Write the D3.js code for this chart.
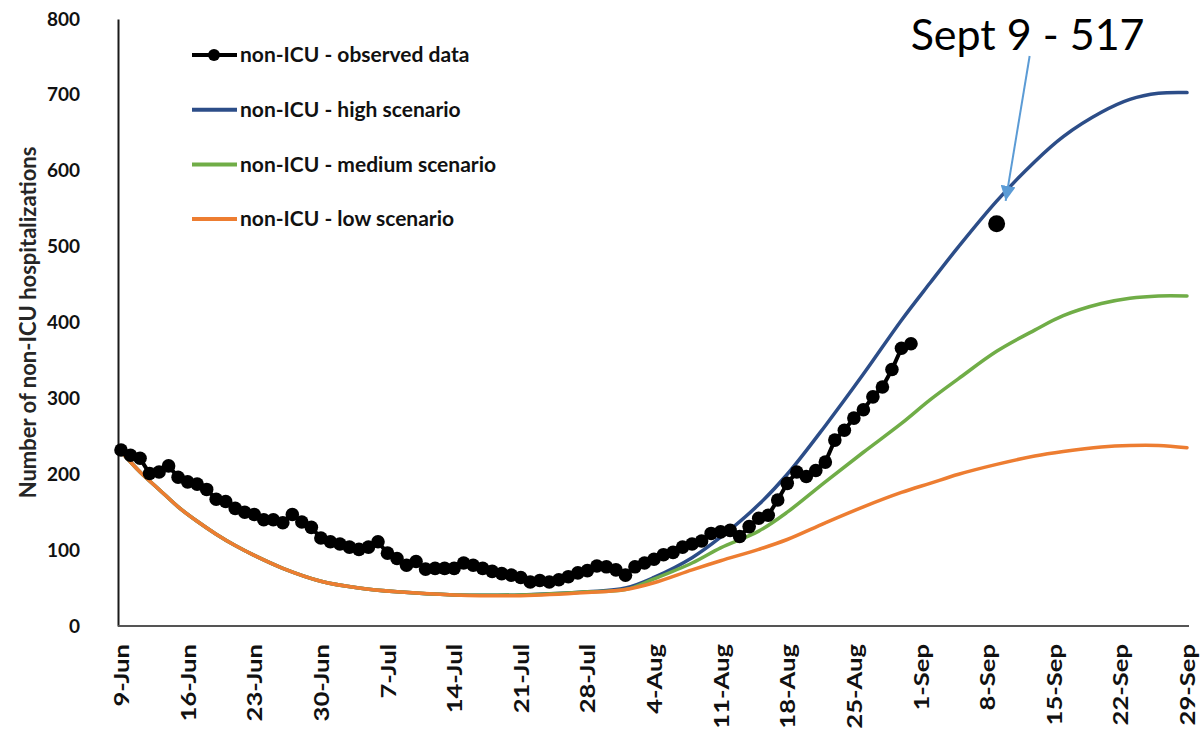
<!DOCTYPE html>
<html>
<head>
<meta charset="utf-8">
<script src="https://cdn.jsdelivr.net/npm/d3@7"></script>
<style>
  body { margin: 0; background: #fff; }
  svg { display: block; font-family: Lato, "Open Sans", sans-serif; }
</style>
</head>
<body>
<svg id="chart" width="1204" height="737"></svg>
<script>
// ---- data ----
const startDate = "2020-06-09";

// observed non-ICU hospitalizations, one value a day from 9-Jun to 31-Aug
const observed = [
  232, 225, 221, 201, 203, 211, 196, 190, 187, 180,
  167, 164, 155, 150, 147, 140, 140, 136, 147, 137,
  130, 116, 111, 108, 104, 101, 104, 111, 96, 89,
  80, 85, 75, 76, 76, 76, 83, 80, 76, 72,
  69, 67, 64, 58, 60, 58, 61, 65, 70, 73,
  79, 78, 74, 67, 78, 83, 88, 94, 97, 104,
  108, 112, 122, 124, 126, 118, 131, 142, 146, 166,
  188, 203, 197, 205, 216, 245, 258, 274, 285, 302,
  315, 338, 366, 372
];

// scenario curves, sampled at these day offsets from 9-Jun
const scenarioDays   = [0, 2, 4, 6, 8, 10, 12, 14, 17, 21, 25, 29, 35, 42, 49, 53, 56, 60, 63, 67, 70, 74, 78, 82, 85, 88, 92, 96, 99, 103, 106, 109, 112];
const highScenario   = [230, 203, 180, 157, 138, 121, 106, 93, 76, 59, 50, 45, 41, 41, 45, 50, 64, 90, 117, 160, 200, 264, 332, 403, 452, 500, 560, 612, 645, 677, 694, 702, 703];
const mediumScenario = [230, 203, 180, 157, 138, 121, 106, 93, 76, 59, 50, 45, 41, 41, 45, 48, 62, 83, 103, 125, 150, 190, 229, 267, 298, 326, 362, 390, 409, 425, 432, 435, 435];
const lowScenario    = [230, 203, 180, 157, 138, 121, 106, 93, 76, 59, 50, 45, 41, 40, 44, 48, 57, 74, 86, 101, 114, 136, 157, 176, 188, 200, 213, 224, 230, 236, 238, 238, 235];

const tickLabels = ["9-Jun", "16-Jun", "23-Jun", "30-Jun", "7-Jul", "14-Jul", "21-Jul", "28-Jul",
  "4-Aug", "11-Aug", "18-Aug", "25-Aug", "1-Sep", "8-Sep", "15-Sep", "22-Sep", "29-Sep"];
const yTicks = [0, 100, 200, 300, 400, 500, 600, 700, 800];

const seriesNames = ["non-ICU - observed data", "non-ICU - high scenario", "non-ICU - medium scenario", "non-ICU - low scenario"];
const seriesColors = ["#000000", "#2c4d88", "#70ad47", "#ed7d31"];

// single highlighted point and its note
const noteDay = 92;          // Sept 9
const noteValue = 530;
const noteText = "Sept 9 - 517";

// ---- scales ----
const day0 = d3.timeParse("%Y-%m-%d")(startDate);
const dayToDate = d => d3.timeDay.offset(day0, d);

const svg = d3.select("#chart");

const x = d3.scaleTime()
  .domain([dayToDate(0), dayToDate(112)])
  .range([121, 1187]);

const y = d3.scaleLinear()
  .domain([0, 800])
  .range([626, 19]);

const axisX = 118;
const font = "Lato, 'Open Sans', sans-serif";

// ---- axes ----
// y axis
const gy = svg.append("g")
  .attr("transform", `translate(${axisX},0)`)
  .call(d3.axisLeft(y).tickValues(yTicks).tickSize(0).tickPadding(38))
  .attr("font-family", font);
gy.select(".domain").attr("stroke", "#1a1a1a").attr("stroke-width", 2);
gy.selectAll("text")
  .attr("font-size", 19)
  .attr("font-weight", 700)
  .attr("fill", "#111");

// x axis (labels are a bit stretched along their length in the original)
const stretch = 1.22;
const tickDates = tickLabels.map((_, i) => dayToDate(i * 7));
const gx = svg.append("g")
  .attr("transform", `translate(0,${y(0)})`)
  .call(d3.axisBottom(x).tickValues(tickDates).tickSize(0)
    .tickFormat((d, i) => tickLabels[i]))
  .attr("font-family", font);
gx.select(".domain").remove();
gx.append("line")
  .attr("x1", axisX).attr("x2", x.range()[1] + 2)
  .attr("stroke", "#555").attr("stroke-width", 2);
gx.selectAll(".tick text")
  .attr("transform", `rotate(-90) scale(${stretch},1)`)
  .attr("text-anchor", "end")
  .attr("x", -18 / stretch)
  .attr("y", 0)
  .attr("dy", "0.36em")
  .attr("font-size", 21)
  .attr("font-weight", 700)
  .attr("fill", "#111");

// y axis title
svg.append("text")
  .attr("transform", `translate(36,${y(400)}) rotate(-90)`)
  .attr("text-anchor", "middle")
  .attr("font-size", 22)
  .attr("font-weight", 700)
  .attr("fill", "#262626")
  .text("Number of non-ICU hospitalizations");

// ---- scenario lines ----
const scenarioLine = d3.line()
  .x(d => x(dayToDate(d[0])))
  .y(d => y(d[1]))
  .curve(d3.curveCatmullRom.alpha(0.5));

const scenarios = [
  {values: highScenario, color: seriesColors[1]},
  {values: mediumScenario, color: seriesColors[2]},
  {values: lowScenario, color: seriesColors[3]}
];

svg.append("g")
  .selectAll("path")
  .data(scenarios)
  .join("path")
    .attr("d", s => scenarioLine(scenarioDays.map((d, i) => [d, s.values[i]])))
    .attr("fill", "none")
    .attr("stroke", s => s.color)
    .attr("stroke-width", 3.5)
    .attr("stroke-linecap", "round");

// ---- observed data ----
const obsPoints = observed.map((v, i) => [i, v]);
const obsLine = d3.line()
  .x(d => x(dayToDate(d[0])))
  .y(d => y(d[1]));

svg.append("path")
  .attr("d", obsLine(obsPoints))
  .attr("fill", "none")
  .attr("stroke", "#000")
  .attr("stroke-width", 4);

svg.append("g")
  .selectAll("circle")
  .data(obsPoints)
  .join("circle")
    .attr("cx", d => x(dayToDate(d[0])))
    .attr("cy", d => y(d[1]))
    .attr("r", 6.8)
    .attr("fill", "#000");

// ---- legend ----
const legend = svg.append("g")
  .selectAll("g")
  .data(seriesNames)
  .join("g")
    .attr("transform", (d, i) => `translate(192,${55 + i * 54.7})`);

legend.append("line")
  .attr("x1", 0).attr("x2", 45)
  .attr("stroke", (d, i) => seriesColors[i])
  .attr("stroke-width", 4);

legend.filter((d, i) => i === 0)
  .append("circle")
  .attr("cx", 22).attr("r", 6).attr("fill", "#000");

legend.append("text")
  .attr("x", 48)
  .attr("dy", "0.35em")
  .attr("font-size", 21)
  .attr("font-weight", 700)
  .attr("fill", "#111")
  .text(d => d);

// ---- annotation ----
const nx = x(dayToDate(noteDay));
const ny = y(noteValue);

svg.append("circle")
  .attr("cx", nx).attr("cy", ny)
  .attr("r", 8.5)
  .attr("fill", "#000");

svg.append("defs").append("marker")
  .attr("id", "arrow")
  .attr("viewBox", "0 0 10 10")
  .attr("refX", 10).attr("refY", 5)
  .attr("markerWidth", 15).attr("markerHeight", 15)
  .attr("markerUnits", "userSpaceOnUse")
  .attr("orient", "auto")
  .append("path")
    .attr("d", "M0,0 L10,5 L0,10 Z")
    .attr("fill", "#5b9bd5");

svg.append("line")
  .attr("x1", nx + 33).attr("y1", 56)
  .attr("x2", nx + 9).attr("y2", ny - 23)
  .attr("stroke", "#5b9bd5")
  .attr("stroke-width", 2)
  .attr("marker-end", "url(#arrow)");

svg.append("text")
  .attr("x", nx - 86)
  .attr("y", 50)
  .attr("font-size", 43)
  .attr("fill", "#000")
  .text(noteText);
</script>
</body>
</html>
